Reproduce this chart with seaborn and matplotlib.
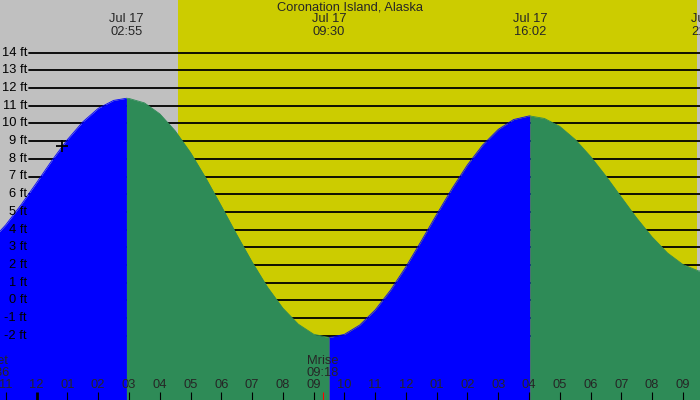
import numpy as np
import matplotlib
matplotlib.use("Agg")
import matplotlib.pyplot as plt
import matplotlib.transforms as mtransforms
import seaborn as sns
import pandas as pd

sns.set_theme(style="white")
plt.rcParams['font.family'] = ['Liberation Sans', 'DejaVu Sans']

title = "Coronation Island, Alaska"

# tide extremes (labelled at the top)
extreme_dates = ["Jul 17", "Jul 17", "Jul 17", "Jul 17"]
extreme_times = ["02:55", "09:30", "16:02", "21:49"]
extreme_hours = [2.917, 9.5, 16.033, 21.817]
extreme_ft = [11.42, -2.1, 10.42, 1.6]

# tide height (hours after midnight Jul 17, feet)
tide_hours = [-1.5, -1.0, -0.5, 0.0, 0.5, 1.0, 1.5, 2.0, 2.5, 2.917, 3.0, 3.5,
              4.0, 4.5, 5.0, 5.5, 6.0, 6.5, 7.0, 7.5, 8.0, 8.5, 9.0, 9.5,
              10.0, 10.5, 11.0, 11.5, 12.0, 12.5, 13.0, 13.5, 14.0, 14.5, 15.0,
              15.5, 16.0, 16.033, 16.5, 17.0, 17.5, 18.0, 18.5, 19.0, 19.5,
              20.0, 20.5, 21.0, 21.5, 22.0]
tide_ft = [3.33, 4.28, 5.42, 6.66, 7.92, 9.09, 10.09, 10.85, 11.3, 11.42, 11.41, 11.16,
           10.54, 9.58, 8.35, 6.9, 5.33, 3.72, 2.17, 0.75, -0.44, -1.34, -1.91, -2.1,
           -1.92, -1.39, -0.54, 0.58, 1.9, 3.36, 4.86, 6.32, 7.66, 8.79, 9.66,
           10.22, 10.42, 10.42, 10.28, 9.83, 9.09, 8.13, 7.02, 5.83, 4.65,
           3.58, 2.68, 2.03, 1.67, 1.62]

ft_levels = list(range(-2, 15))
hour_ticks = list(range(-1, 22))
hour_labels = ["%02d" % ((h % 12) or 12) for h in hour_ticks]
sunrise_h, sunset_h = 4.583, 21.467
moon_names = ["Mset", "Mrise"]
moon_times = ["22:36", "09:18"]
moon_hours = [-1.4, 9.3]
now_h, now_ft = 0.82, 8.7

W, H = 700, 400
PXH, X0PX = 30.77, 36.7
PXF, Y0PX = 17.7, 300.4
xlim = (-X0PX / PXH, (W - X0PX) / PXH)
ylim = (-(H - Y0PX) / PXF, Y0PX / PXF)

GRAY, YELLOW, BLUE, GREEN = "#c0c0c0", "#cccc00", "#0000ff", "#2e8b57"

fig = plt.figure(figsize=(7, 4), dpi=100)
fig.patch.set_facecolor(GRAY)
ax = fig.add_axes([0, 0, 1, 1])

ax.axvspan(xlim[0], xlim[1], color=GRAY, lw=0, zorder=0)
ax.axvspan(sunrise_h, sunset_h, color=YELLOW, lw=0, zorder=0.5)

for lv in ft_levels:
    ax.axhline(lv, xmin=29 / W, xmax=1, color="black", lw=1.3, zorder=1)

# split the curve into rising / falling stretches between the extremes
h_arr = np.array(tide_hours)
v_arr = np.array(tide_ft)
bounds = [-np.inf] + extreme_hours[:3] + [np.inf]
phases = ["rise", "fall", "rise", "fall"]
parts = []
for i, ph in enumerate(phases):
    m = (h_arr >= bounds[i]) & (h_arr <= bounds[i + 1])
    parts.append(pd.DataFrame({"hour": h_arr[m], "ft": v_arr[m], "phase": ph, "seg": i}))
df = pd.concat(parts, ignore_index=True)
pal = {"rise": BLUE, "fall": GREEN}

for seg, sub in df.groupby("seg"):
    ax.fill_between(sub["hour"], sub["ft"], ylim[0], color=pal[sub["phase"].iloc[0]],
                    lw=0, zorder=2)
sns.lineplot(data=df, x="hour", y="ft", hue="phase", units="seg", estimator=None,
             palette=pal, lw=0.6, ax=ax, legend=False, sort=False, zorder=2.1)

ax.set_xlim(*xlim)
ax.set_ylim(*ylim)
ax.axis("off")

ax.plot([now_h], [now_ft], marker="+", ms=8, mew=1.3, color="black", zorder=4)

fs = 9.3
for lv in ft_levels:
    ax.text(27 / W, (lv - ylim[0]) / (ylim[1] - ylim[0]), f"{lv} ft", transform=ax.transAxes,
            ha="right", va="center", fontsize=fs, color="black", zorder=5)

bt = mtransforms.blended_transform_factory(ax.transData, ax.transAxes)
for hh, lab in zip(hour_ticks, hour_labels):
    ax.text(hh, 1 - 385.5 / H, lab, transform=bt, ha="center", va="center", fontsize=fs, zorder=5)
    ax.vlines(hh, 0, 8 / H, transform=bt, color="black", lw=2.0 if hh == 0 else 0.8, zorder=5)

for name, t, hh in zip(moon_names, moon_times, moon_hours):
    ax.text(hh, 1 - 361.5 / H, name, transform=bt, ha="center", va="center", fontsize=fs, zorder=5)
    ax.text(hh, 1 - 373 / H, t, transform=bt, ha="center", va="center", fontsize=fs, zorder=5)
    ax.vlines(hh, 0, 8 / H, transform=bt, color="red", lw=0.8, zorder=5)

ax.text(0.5, 1 - 7.5 / H, title, transform=ax.transAxes, ha="center", va="center", fontsize=fs, zorder=5)
for d, t, hh in zip(extreme_dates, extreme_times, extreme_hours):
    ax.text(hh, 1 - 19.5 / H, d, transform=bt, ha="center", va="center", fontsize=fs, zorder=5)
    ax.text(hh, 1 - 32 / H, t, transform=bt, ha="center", va="center", fontsize=fs, zorder=5)

fig.savefig("out.png", dpi=100, facecolor=GRAY)
